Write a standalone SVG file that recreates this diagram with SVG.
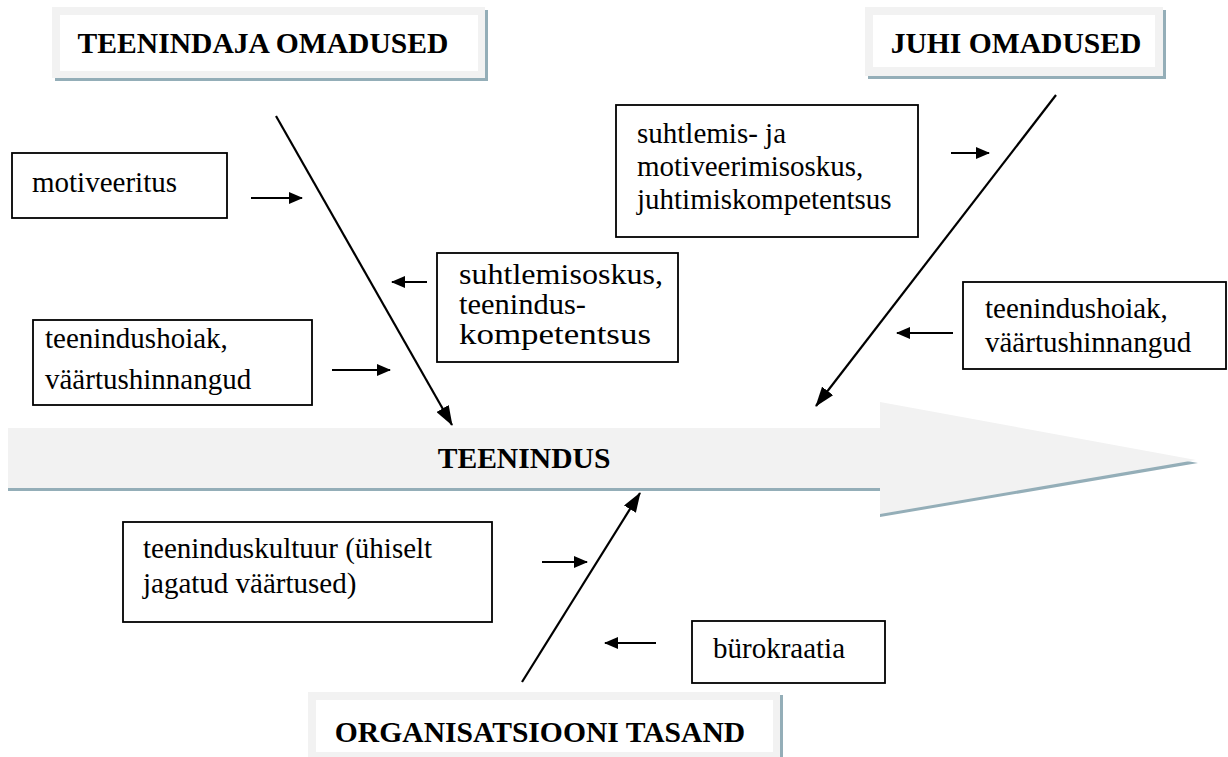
<svg xmlns="http://www.w3.org/2000/svg" width="1228" height="757" viewBox="0 0 1228 757">
  <style>
    .box { fill: #ffffff; stroke: #000000; stroke-width: 1.8; }
    .txt { font-size: 29px; fill: #000000; }
    .head { font-size: 29.6px; font-weight: bold; fill: #000000; }
    .frame { fill: #f2f2f2; }
    .shade { fill: #94aeb8; }
    .inner { fill: #ffffff; }
    .link { stroke: #000000; stroke-width: 2; fill: none; }
    .bone { stroke: #000000; stroke-width: 2.2; fill: none; }
  </style>
  <defs>
    <marker id="tip-s" viewBox="0 0 14 12" refX="13" refY="6" markerWidth="14" markerHeight="12" markerUnits="userSpaceOnUse" orient="auto">
      <path d="M0,0 L14,6 L0,12 z" fill="#000000"/>
    </marker>
    <marker id="tip-l" viewBox="0 0 20 14" refX="19" refY="7" markerWidth="20" markerHeight="14" markerUnits="userSpaceOnUse" orient="auto">
      <path d="M0,0 L20,7 L0,14 z" fill="#000000"/>
    </marker>
  </defs>

  <rect width="1228" height="757" fill="#ffffff"/>

  <g font-family="Liberation Serif, Tinos, DejaVu Serif, serif">
  <!-- main spine: wide shaded arrow -->
  <g id="spine">
    <rect class="shade" x="8" y="431" width="872" height="60"/>
    <polygon class="shade" points="880,405 1198,463 880,517"/>
    <rect class="frame" x="8" y="428" width="872" height="60"/>
    <polygon class="frame" points="880,402 1196,460 880,514"/>
    <text class="head" x="524" y="468" text-anchor="middle">TEENINDUS</text>
  </g>

  <!-- category headers -->
  <g id="head-teenindaja">
    <rect class="shade" x="55" y="10" width="433" height="71"/>
    <rect class="frame" x="52" y="7" width="433" height="71"/>
    <rect class="inner" x="60" y="15" width="418" height="56"/>
    <text class="head" x="263" y="53" text-anchor="middle">TEENINDAJA OMADUSED</text>
  </g>
  <g id="head-juhi">
    <rect class="shade" x="868" y="10" width="298" height="69"/>
    <rect class="frame" x="865" y="7" width="298" height="69"/>
    <rect class="inner" x="873" y="15" width="282" height="52"/>
    <text class="head" x="1016" y="53" text-anchor="middle">JUHI OMADUSED</text>
  </g>
  <g id="head-organisatsioon">
    <rect class="shade" x="311" y="695" width="472" height="70"/>
    <rect class="frame" x="308" y="692" width="472" height="70"/>
    <rect class="inner" x="316" y="700" width="457" height="52"/>
    <text class="head" x="540" y="742" text-anchor="middle">ORGANISATSIOONI TASAND</text>
  </g>

  <!-- cause boxes -->
  <g id="c-motiveeritus">
    <rect class="box" x="12" y="153" width="215" height="65"/>
    <text class="txt" x="32" y="192">motiveeritus</text>
  </g>
  <g id="c-suhtlemisoskus">
    <rect class="box" x="437" y="253" width="241" height="109"/>
    <text class="txt" x="459" y="284" font-size="31" textLength="204" lengthAdjust="spacingAndGlyphs">suhtlemisoskus,</text>
    <text class="txt" x="459" y="314" font-size="31" textLength="127" lengthAdjust="spacingAndGlyphs">teenindus-</text>
    <text class="txt" x="459" y="344" font-size="31" textLength="192" lengthAdjust="spacingAndGlyphs">kompetentsus</text>
  </g>
  <g id="c-hoiak-left">
    <rect class="box" x="33" y="320" width="279" height="85"/>
    <text class="txt" x="45" y="348" font-size="31">teenindushoiak,</text>
    <text class="txt" x="45" y="389" font-size="31">väärtushinnangud</text>
  </g>
  <g id="c-juhtimine">
    <rect class="box" x="616" y="105" width="302" height="132"/>
    <text class="txt" x="637" y="143">suhtlemis- ja</text>
    <text class="txt" x="637" y="176">motiveerimisoskus,</text>
    <text class="txt" x="637" y="209">juhtimiskompetentsus</text>
  </g>
  <g id="c-hoiak-right">
    <rect class="box" x="963" y="282" width="263" height="87"/>
    <text class="txt" x="985" y="318">teenindushoiak,</text>
    <text class="txt" x="985" y="352">väärtushinnangud</text>
  </g>
  <g id="c-kultuur">
    <rect class="box" x="123" y="522" width="369" height="100"/>
    <text class="txt" x="143" y="558">teeninduskultuur (ühiselt</text>
    <text class="txt" x="143" y="593">jagatud väärtused)</text>
  </g>
  <g id="c-burokraatia">
    <rect class="box" x="692" y="621" width="193" height="62"/>
    <text class="txt" x="713" y="658">bürokraatia</text>
  </g>
  </g>

  <!-- connectors -->
  <g id="connectors">
    <line class="bone" x1="276" y1="116" x2="452" y2="425" marker-end="url(#tip-l)"/>
    <line class="bone" x1="1056" y1="95" x2="816" y2="406" marker-end="url(#tip-l)"/>
    <line class="bone" x1="522" y1="682" x2="640" y2="493" marker-end="url(#tip-l)"/>

    <line class="link" x1="251" y1="198" x2="302" y2="198" marker-end="url(#tip-s)"/>
    <line class="link" x1="427" y1="282" x2="392" y2="282" marker-end="url(#tip-s)"/>
    <line class="link" x1="332" y1="370" x2="390" y2="370" marker-end="url(#tip-s)"/>
    <line class="link" x1="951" y1="153" x2="989" y2="153" marker-end="url(#tip-s)"/>
    <line class="link" x1="953" y1="333" x2="897" y2="333" marker-end="url(#tip-s)"/>
    <line class="link" x1="542" y1="562" x2="587" y2="562" marker-end="url(#tip-s)"/>
    <line class="link" x1="656" y1="643" x2="605" y2="643" marker-end="url(#tip-s)"/>
  </g>
</svg>
